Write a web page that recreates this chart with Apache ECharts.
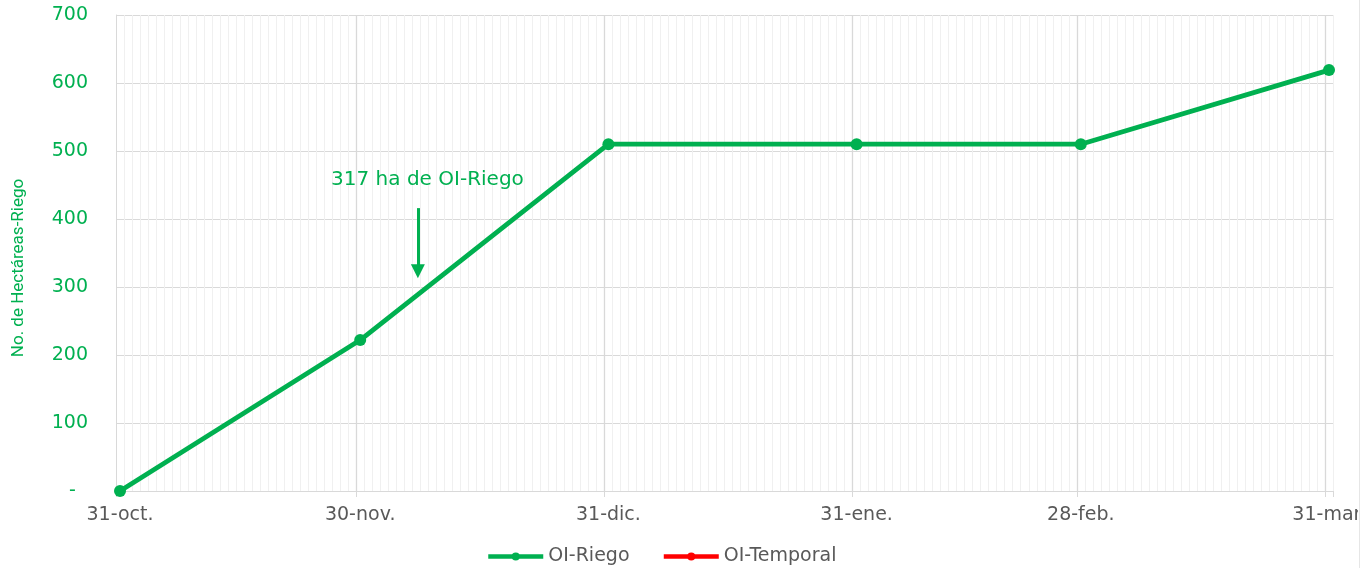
<!DOCTYPE html>
<html>
<head>
<meta charset="utf-8">
<script src="https://cdn.jsdelivr.net/npm/echarts@6/dist/echarts.min.js"></script>
<style>html,body{margin:0;padding:0;background:#fff}#c{width:1368px;height:568px}</style>
</head>
<body>
<div id="c"></div>
<script>
// ---- data ----
const dateLabels = ['31-oct.', '30-nov.', '31-dic.', '31-ene.', '28-feb.', '31-mar.'];
const dayOffsets = [0, 30, 61, 92, 120, 151];   // days since 31-oct
const riegoValues = [0, 222, 510, 510, 510, 619];
const temporalValues = [];
const yTicks = [0, 100, 200, 300, 400, 500, 600, 700];
const totalDays = 152;
const noteText = '317 ha de OI-Riego';
const noteDay = 38.9, noteValue = 457;
const arrowDay = 37.7, arrowFrom = 416, arrowTo = 323;

// ---- build tables ----
const dayCats = [];
for (let i = 0; i < totalDays; i++) {
  const k = dayOffsets.indexOf(i);
  dayCats.push(k >= 0 ? dateLabels[k] : '');
}
const riegoData = dayOffsets.map((d, i) => [d + 0.5, riegoValues[i]]);
const temporalData = temporalValues.map((v, i) => [dayOffsets[i] + 0.5, v]);
const isMajor = (idx) => dayOffsets.indexOf(idx) >= 0;

const green = '#00b050';
const FONT = 'DejaVu Sans';

const chart = echarts.init(document.getElementById('c'));
chart.setOption({
  animation: false,
  textStyle: { fontFamily: FONT },
  grid: { left: 116, right: 35, top: 15, bottom: 77, containLabel: false, outerBoundsMode: 'none' },
  xAxis: [
    {
      type: 'category',
      data: dayCats,
      boundaryGap: true,
      axisLine: { show: true, lineStyle: { color: '#d9d9d9', width: 1 } },
      axisTick: { show: true, interval: (i) => isMajor(i), length: 6, lineStyle: { color: '#d9d9d9' } },
      axisLabel: { interval: (i) => isMajor(i), color: '#595959', fontSize: 19, margin: 15, fontFamily: FONT },
      splitLine: { show: true, interval: 0, lineStyle: { color: '#f0f0f0', width: 1 } }
    },
    {
      type: 'value', show: false, min: 0, max: totalDays, gridIndex: 0
    }
  ],
  yAxis: {
    type: 'value', min: 0, max: 700, interval: 100,
    name: 'No. de Hectáreas-Riego', nameLocation: 'middle', nameGap: 89, nameRotate: 90,
    nameTextStyle: { color: green, fontSize: 17, fontFamily: 'Roboto', padding: [0, 30, 0, 0] },
    axisLine: { show: true, lineStyle: { color: '#d9d9d9' } },
    axisTick: { show: false },
    axisLabel: { color: green, fontSize: 19, margin: 28, fontFamily: FONT,
      formatter: (v) => v === 0 ? '-  ' : String(v) },
    splitLine: { show: true, lineStyle: { color: '#d9d9d9', width: 1 } }
  },
  legend: {
    bottom: -3, left: 481, itemWidth: 55, itemHeight: 10, itemGap: 32,
    lineStyle: { width: 4.5 },
    textStyle: { color: '#595959', fontSize: 19, fontFamily: FONT },
    data: ['OI-Riego', 'OI-Temporal']
  },
  series: [
    {
      name: 'OI-Riego', type: 'line', xAxisIndex: 1, data: riegoData,
      color: green,
      lineStyle: { color: green, width: 4.8 },
      itemStyle: { color: green },
      symbol: 'circle', symbolSize: 12, z: 5,
      markLine: {
        silent: true, symbol: ['none', 'none'], animation: false,
        label: { show: false },
        lineStyle: { color: '#d9d9d9', width: 1.3, type: 'solid' },
        data: dayOffsets.slice(1).map(d => ({ xAxis: d }))
      },
      markPoint: {
        silent: true, symbol: 'circle', symbolSize: 1, itemStyle: { color: 'rgba(0,0,0,0)' },
        label: { show: true, position: 'inside', color: green, fontSize: 20, fontFamily: FONT, formatter: noteText },
        data: [{ coord: [noteDay, noteValue] }]
      }
    },
    {
      name: 'OI-Temporal', type: 'line', xAxisIndex: 1, data: temporalData,
      color: '#ff0000',
      lineStyle: { color: '#ff0000', width: 4.5 },
      itemStyle: { color: '#ff0000' },
      symbol: 'circle', symbolSize: 12,
      markLine: {
        silent: true, symbol: ['none', 'triangle'], symbolSize: 14, animation: false,
        label: { show: false },
        itemStyle: { color: green },
        lineStyle: { color: green, width: 3, type: 'solid' },
        data: [[{ coord: [arrowDay, arrowFrom] }, { coord: [arrowDay, arrowTo] }]]
      }
    }
  ],
  graphic: [
    { type: 'rect', z: 100, shape: { x: 1358, y: 0, width: 10, height: 568 }, style: { fill: '#fff' } },
    { type: 'line', z: 101, shape: { x1: 1359.5, y1: 0, x2: 1359.5, y2: 568 }, style: { stroke: '#e6e6e6', lineWidth: 1 } }
  ]
});
</script>
</body>
</html>
